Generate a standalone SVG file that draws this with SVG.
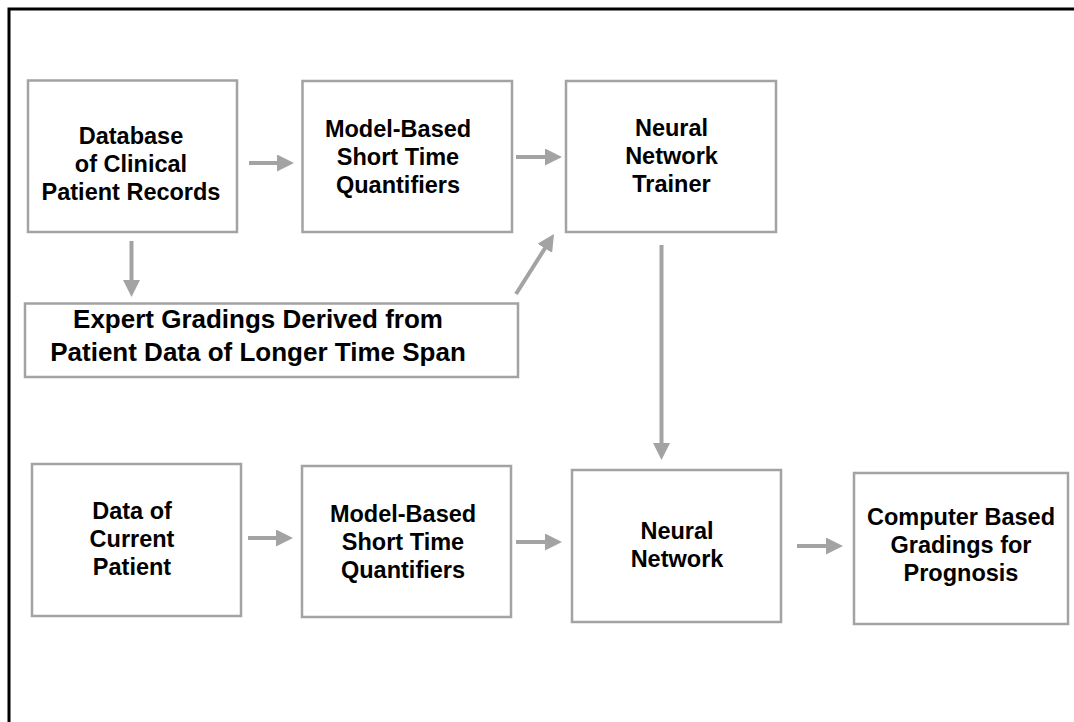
<svg xmlns="http://www.w3.org/2000/svg" width="1074" height="722" viewBox="0 0 1074 722">
<style>
.box{fill:#ffffff;stroke:#a3a3a3;stroke-width:2.5}
.t{font-family:"Liberation Sans",Arial,sans-serif;font-weight:bold;font-size:23.5px;fill:#000;text-anchor:middle}
.te{font-size:26px}
.c{stroke:#a3a3a3;stroke-width:4;fill:none}
</style>
<defs>
<marker id="ah" markerUnits="userSpaceOnUse" markerWidth="17" markerHeight="17" refX="5" refY="8.5" orient="auto">
<path d="M0,0 L17,8.5 L0,17 Z" fill="#a3a3a3"/>
</marker>
</defs>
<rect x="0" y="0" width="1074" height="722" fill="#ffffff"/>
<rect x="9" y="9" width="1200" height="900" fill="none" stroke="#000" stroke-width="3"/>
<g id="connectors">
<line class="c" x1="249" y1="163" x2="282" y2="163" marker-end="url(#ah)"/>
<line class="c" x1="516" y1="157" x2="550" y2="157" marker-end="url(#ah)"/>
<line class="c" x1="131.5" y1="241" x2="131.5" y2="285" marker-end="url(#ah)"/>
<line class="c" x1="516" y1="294" x2="547.6" y2="244.1" marker-end="url(#ah)"/>
<line class="c" x1="661.5" y1="245" x2="661.5" y2="448" marker-end="url(#ah)"/>
<line class="c" x1="248" y1="538" x2="281" y2="538" marker-end="url(#ah)"/>
<line class="c" x1="516" y1="542" x2="550" y2="542" marker-end="url(#ah)"/>
<line class="c" x1="797" y1="546" x2="831" y2="546" marker-end="url(#ah)"/>
</g>
<g id="db">
<rect class="box" x="28" y="80.5" width="209" height="151.5"/>
<text class="t" x="131" y="144">Database</text>
<text class="t" x="131" y="172">of Clinical</text>
<text class="t" x="131" y="200">Patient Records</text>
</g>
<g id="mbq1">
<rect class="box" x="302.5" y="81" width="209.5" height="151"/>
<text class="t" x="398" y="137">Model-Based</text>
<text class="t" x="398" y="165">Short Time</text>
<text class="t" x="398" y="193">Quantifiers</text>
</g>
<g id="trainer">
<rect class="box" x="566" y="81" width="210" height="151"/>
<text class="t" x="671.5" y="136">Neural</text>
<text class="t" x="671.5" y="164">Network</text>
<text class="t" x="671.5" y="192">Trainer</text>
</g>
<g id="expert">
<rect class="box" x="25" y="303.5" width="493" height="73.5"/>
<text class="t te" x="258" y="328">Expert Gradings Derived from</text>
<text class="t te" x="258" y="361">Patient Data of Longer Time Span</text>
</g>
<g id="current">
<rect class="box" x="32" y="464" width="209" height="152"/>
<text class="t" x="132" y="519">Data of</text>
<text class="t" x="132" y="547">Current</text>
<text class="t" x="132" y="575">Patient</text>
</g>
<g id="mbq2">
<rect class="box" x="302" y="466" width="209" height="151"/>
<text class="t" x="403" y="522">Model-Based</text>
<text class="t" x="403" y="550">Short Time</text>
<text class="t" x="403" y="578">Quantifiers</text>
</g>
<g id="nn">
<rect class="box" x="572" y="470" width="209" height="152"/>
<text class="t" x="677" y="539">Neural</text>
<text class="t" x="677" y="567">Network</text>
</g>
<g id="grading">
<rect class="box" x="854" y="473" width="214" height="151"/>
<text class="t" x="961" y="525">Computer Based</text>
<text class="t" x="961" y="553">Gradings for</text>
<text class="t" x="961" y="581">Prognosis</text>
</g>
</svg>
